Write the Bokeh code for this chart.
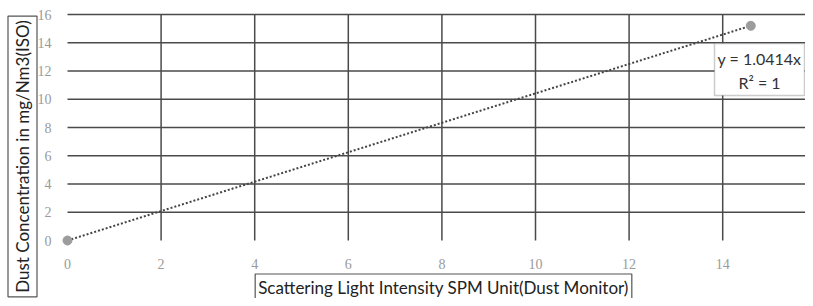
import numpy as np
from bokeh.plotting import figure
from bokeh.models import Range1d, FixedTicker, Label, BoxAnnotation, LinearAxis
from bokeh.embed import file_html
from bokeh.resources import INLINE

# data
x_vals = [0.0, 14.6]
y_vals = [0.0, 15.2]
slope = 1.0414
x_ticks = [0, 2, 4, 6, 8, 10, 12, 14, 16]
y_ticks = [0, 2, 4, 6, 8, 10, 12, 14, 16]
x_title = "Scattering Light Intensity SPM Unit(Dust Monitor)"
y_title = "Dust Concentration in mg/Nm3(ISO)"
eq_text = "y = 1.0414x"
r2_text = "R\u00b2 = 1"

W, H = 805, 298
X0, Y0, SX, SY = 67.0, 240.0, 46.8, 14.125   # pixel of origin, px per unit


def dx(px):
    return (px - X0) / SX


def dy(py):
    return (Y0 - py) / SY


p = figure(frame_width=W, frame_height=H, min_border=0,
           x_range=Range1d(dx(0), dx(W)), y_range=Range1d(dy(H), dy(0)),
           x_axis_location=None, y_axis_location=None,
           output_backend="svg", toolbar_location=None)
p.outline_line_color = None
p.xgrid.visible = False
p.ygrid.visible = False

xa = LinearAxis(fixed_location=0, ticker=FixedTicker(ticks=x_ticks))
ya = LinearAxis(fixed_location=0, ticker=FixedTicker(ticks=y_ticks))
for ax in (xa, ya):
    ax.axis_line_color = None
    ax.major_tick_line_color = None
    ax.minor_tick_line_color = None
    ax.major_label_text_color = "#9a9a9a"
    ax.major_label_text_font = "Liberation Serif"
    ax.major_label_text_font_size = "14px"
xa.major_label_standoff = 12
ya.major_label_standoff = 10
p.add_layout(xa, "below")
p.add_layout(ya, "left")

# grid lines spanning only the 0..16 box (no lines at 0)
gxt = [t for t in x_ticks if t > 0]
gyt = [t for t in y_ticks if t > 0]
p.segment(x0=gxt, y0=[y_ticks[0]] * len(gxt), x1=gxt, y1=[y_ticks[-1]] * len(gxt),
          line_color="#4a4a4a", line_width=1.5)
p.segment(x0=[x_ticks[0]] * len(gyt), y0=gyt, x1=[x_ticks[-1]] * len(gyt), y1=gyt,
          line_color="#4a4a4a", line_width=1.5)

xt = np.array([x_vals[0], x_vals[-1]])
p.line(xt, slope * xt, line_color="#444444", line_width=2, line_dash="2 2")
p.scatter(x_vals, y_vals, size=9, fill_color="#9c9c9c", line_color="#9c9c9c")

# equation box
p.add_layout(BoxAnnotation(left=dx(714), right=dx(804), top=dy(43), bottom=dy(95),
                           fill_color="white", fill_alpha=1.0,
                           line_color="#555555", line_width=1.5))
p.add_layout(Label(x=dx(759), y=dy(58), text=eq_text, text_align="center", text_baseline="middle",
                   text_font="Lato", text_font_size="16px", text_color="#333333"))
p.add_layout(Label(x=dx(759), y=dy(82), text=r2_text, text_align="center", text_baseline="middle",
                   text_font="Lato", text_font_size="16px", text_color="#333333"))

# axis titles in boxes
p.add_layout(Label(x=dx(443), y=dy(287), text=x_title,
                   text_align="center", text_baseline="middle",
                   text_font="Lato", text_font_size="17px", text_color="#222222",
                   border_line_color="#555555", border_line_width=1.2,
                   background_fill_color="white", padding=3))
p.add_layout(Label(x=dx(22), y=dy(156), text=y_title, angle=np.pi / 2,
                   text_align="center", text_baseline="middle",
                   text_font="Lato", text_font_size="17px", text_color="#222222",
                   border_line_color="#555555", border_line_width=1.2,
                   background_fill_color="white", padding=4))

open("out.html", "w").write(file_html(p, INLINE))
